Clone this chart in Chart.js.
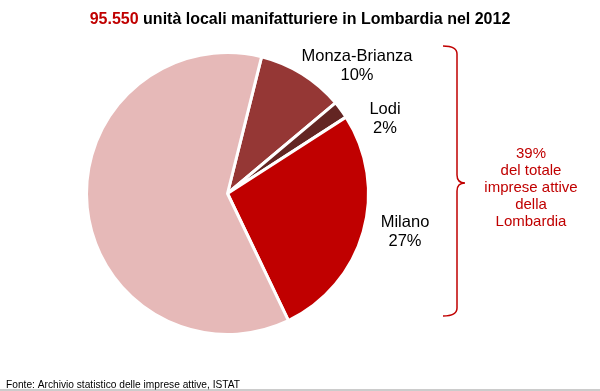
<!DOCTYPE html>
<html><head><meta charset="utf-8">
<script src="https://cdn.jsdelivr.net/npm/chart.js@4.4.1/dist/chart.umd.min.js"></script>
<style>html,body{margin:0;padding:0;background:#fff;}canvas{display:block;}</style>
</head><body>
<canvas id="c" width="600" height="391"></canvas>
<script>
const categories = ["Monza-Brianza", "Lodi", "Milano", "Altre province"];
const shares = [10, 2, 27, 61];
const shareLabels = ["10%", "2%", "27%", ""];
const titleNumber = "95.550";
const titleRest = " unità locali manifatturiere in Lombardia nel 2012";
const braceText = ["39%", "del totale", "imprese attive", "della", "Lombardia"];
const sourceText = "Fonte: Archivio statistico delle imprese attive, ISTAT";
const colors = ["#953735", "#632523", "#C00000", "#E6B9B8"];

const FONT = "Liberation Sans, Arial, sans-serif";

const overlay = {
  id: "overlay",
  afterDraw(chart) {
    const ctx = chart.ctx;
    ctx.save();
    // title
    ctx.font = "bold 16px " + FONT;
    ctx.textBaseline = "alphabetic";
    const w1 = ctx.measureText(titleNumber).width;
    const w2 = ctx.measureText(titleRest).width;
    let x0 = 300 - (w1 + w2) / 2;
    ctx.fillStyle = "#C00000";
    ctx.textAlign = "left";
    ctx.fillText(titleNumber, x0, 24);
    ctx.fillStyle = "#000";
    ctx.fillText(titleRest, x0 + w1, 24);

    // slice labels
    const meta = chart.getDatasetMeta(0);
    const labelPos = [[357, 61], [385, 114], [405, 227]];
    ctx.font = "16.5px " + FONT;
    ctx.textAlign = "center";
    ctx.fillStyle = "#000";
    for (let i = 0; i < 3; i++) {
      const arc = meta.data[i];
      if (!arc) continue;
      const [lx, ly] = labelPos[i];
      ctx.fillText(categories[i], lx, ly);
      ctx.fillText(shareLabels[i], lx, ly + 19);
    }

    // brace
    ctx.strokeStyle = "#C00000";
    ctx.lineWidth = 1.5;
    const bx = 457, top = 46, bot = 316, mid = 183;
    ctx.beginPath();
    ctx.moveTo(443, top);
    ctx.quadraticCurveTo(bx, top, bx, top + 8);
    ctx.lineTo(bx, mid - 8);
    ctx.quadraticCurveTo(bx, mid, bx + 8, mid);
    ctx.quadraticCurveTo(bx, mid, bx, mid + 8);
    ctx.lineTo(bx, bot - 8);
    ctx.quadraticCurveTo(bx, bot, 443, bot);
    ctx.stroke();

    // brace text
    ctx.font = "15px " + FONT;
    ctx.fillStyle = "#C00000";
    ctx.textAlign = "center";
    braceText.forEach((t, i) => ctx.fillText(t, 531, 158 + i * 17));

    // source
    ctx.font = "10.2px " + FONT;
    ctx.fillStyle = "#000";
    ctx.textAlign = "left";
    ctx.fillText(sourceText, 6, 387.5);
    ctx.strokeStyle = "#999";
    ctx.lineWidth = 1;
    ctx.beginPath();
    ctx.moveTo(0, 390);
    ctx.lineTo(600, 390);
    ctx.stroke();
    ctx.restore();
  }
};

new Chart(document.getElementById("c"), {
  type: "pie",
  data: {
    labels: categories,
    datasets: [{
      data: shares,
      backgroundColor: colors,
      borderColor: "#fff",
      borderWidth: 3
    }]
  },
  options: {
    responsive: false,
    animation: false,
    rotation: 14,
    layout: { padding: { left: 84, right: 229, top: 51, bottom: 55 } },
    plugins: { legend: { display: false }, tooltip: { enabled: false }, title: { display: false } }
  },
  plugins: [overlay]
});
</script>
</body></html>
